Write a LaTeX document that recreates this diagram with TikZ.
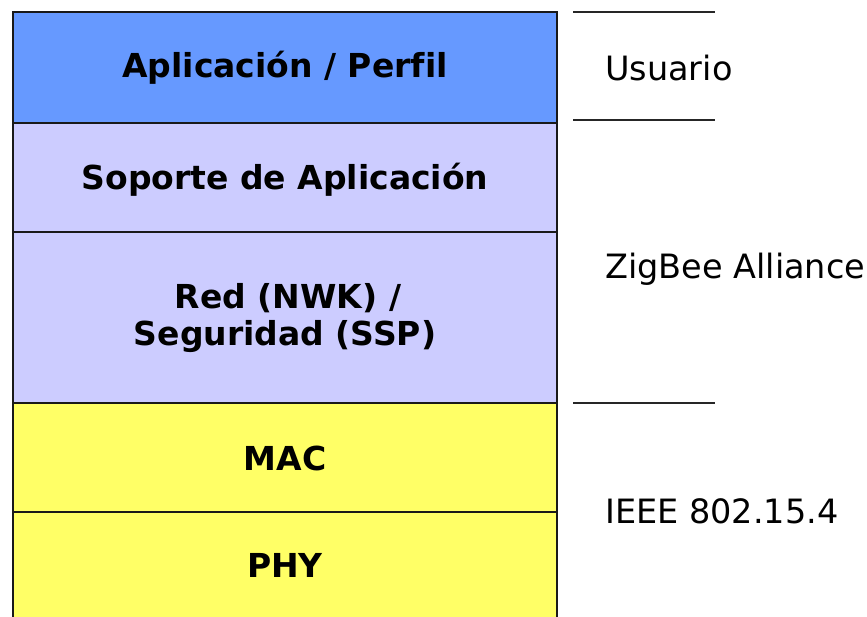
\documentclass[tikz,border=0pt]{standalone}
\usepackage{fontspec}
\setmainfont[Ligatures={NoCommon}]{DejaVu Sans}
\definecolor{layblue}{HTML}{6699FF}
\definecolor{laylav}{HTML}{CCCCFF}
\definecolor{layyel}{HTML}{FFFF66}
\begin{document}
\begin{tikzpicture}[x=1pt,y=-1pt,
  layer/.style={draw=black!90,line width=2.2pt},
  ltext/.style={font=\fontsize{33}{37}\selectfont\bfseries,anchor=base,inner sep=0pt,align=center},
  rtext/.style={font=\fontsize{33.5}{37}\selectfont,anchor=base west,inner sep=0pt},
  sep/.style={draw=black!85,line width=2.2pt}]
\useasboundingbox (0,0) rectangle (867,616);
\begin{scope}
\clip (0,0) rectangle (867,616);
\path[layer,fill=layblue] (13,12) rectangle (557,123);
\path[layer,fill=laylav] (13,123) rectangle (557,232);
\path[layer,fill=laylav] (13,232) rectangle (557,403);
\path[layer,fill=layyel] (13,403) rectangle (557,512);
\path[layer,fill=layyel] (13,512) rectangle (557,640);
\end{scope}
\node[ltext] (app) at (285,77) {Aplicación / Perfil};
\node[ltext] (aps) at (285,189) {Soporte de Aplicación};
\node[ltext] (nwk1) at (288,308) {Red (NWK) /};
\node[ltext] (nwk2) at (285,345) {Seguridad (SSP)};
\node[ltext] (mac) at (285,470) {MAC};
\node[ltext] (phy) at (285,577) {PHY};
\coordinate (s1a) at (573,12); \coordinate (s1b) at (715,12);
\coordinate (s2a) at (573,120); \coordinate (s2b) at (715,120);
\coordinate (s3a) at (573,403); \coordinate (s3b) at (715,403);
\draw[sep] (s1a) -- (s1b);
\draw[sep] (s2a) -- (s2b);
\draw[sep] (s3a) -- (s3b);
\node[rtext] (usr) at (605,80) {Usuario};
\node[rtext] (zb) at (605,278) {ZigBee Alliance};
\node[rtext] (ieee) at (605,523) {IEEE 802.15.4};
\end{tikzpicture}
\end{document}
